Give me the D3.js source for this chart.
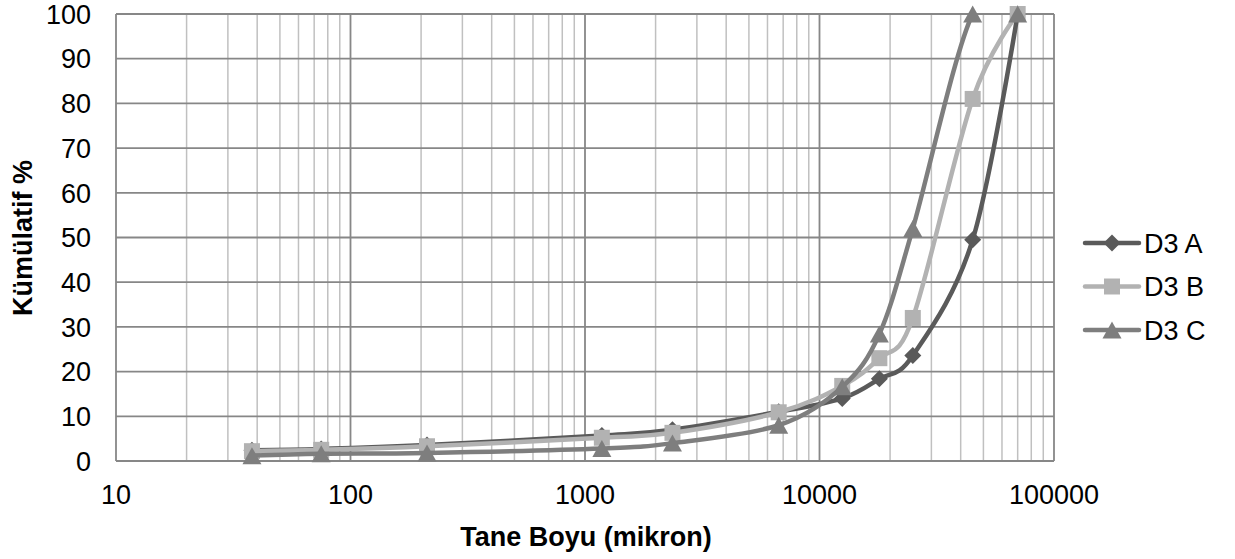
<!DOCTYPE html>
<html>
<head>
<meta charset="utf-8">
<script src="https://cdn.jsdelivr.net/npm/d3@7"></script>
<style>
  body { margin: 0; background: #fff; }
  svg { display: block; font-family: "Liberation Sans", Arial, sans-serif; }
  .tick-label { font-size: 27px; fill: #000; }
  .axis-title { font-size: 27px; font-weight: bold; fill: #000; }
</style>
</head>
<body>
<svg id="chart" width="1235" height="559"></svg>
<script>
// sieve sizes (micron)
var sizes = [38, 75, 212, 1180, 2360, 6700, 12500, 18000, 25000, 45000, 70000];
var d3a = [2.4, 2.7, 3.6, 5.7, 7.0, 11.0, 14.0, 18.4, 23.6, 49.5, 100];
var d3b = [2.2, 2.5, 3.3, 5.2, 6.3, 10.9, 16.8, 23.0, 32.0, 81.0, 100];
var d3c = [1.2, 1.6, 1.8, 2.8, 4.0, 8.0, 16.6, 28.4, 52.0, 100, 100];
var seriesNames = ["D3 A", "D3 B", "D3 C"];
var yTicks = [0, 10, 20, 30, 40, 50, 60, 70, 80, 90, 100];
var xTicks = [10, 100, 1000, 10000, 100000];

var series = [
  {name: seriesNames[0], values: d3a, color: "#5a5a5a", marker: "diamond"},
  {name: seriesNames[1], values: d3b, color: "#b2b2b2", marker: "square"},
  {name: seriesNames[2], values: d3c, color: "#7e7e7e", marker: "triangle"}
];

var svg = d3.select("#chart");
var x = d3.scaleLog().domain([10, 100000]).range([116, 1054]);
var y = d3.scaleLinear().domain([0, 100]).range([461, 14]);

// lines are clipped to the plot area, markers are not
svg.append("clipPath").attr("id", "plot-clip").append("rect")
  .attr("x", x(10)).attr("y", y(100))
  .attr("width", x(100000) - x(10)).attr("height", y(0) - y(100));

// minor vertical gridlines (2..9 of each decade)
var minor = [];
for (var p = 10; p < 100000; p *= 10) {
  for (var k = 2; k <= 9; k++) minor.push(p * k);
}
svg.append("g").selectAll("line").data(minor).enter().append("line")
  .attr("x1", function(d) { return x(d); }).attr("x2", function(d) { return x(d); })
  .attr("y1", y(0)).attr("y2", y(100))
  .attr("stroke", "#c0c0c0").attr("stroke-width", 1.5);

// major gridlines
svg.append("g").selectAll("line").data(yTicks).enter().append("line")
  .attr("x1", x(10)).attr("x2", x(100000))
  .attr("y1", function(d) { return y(d); }).attr("y2", function(d) { return y(d); })
  .attr("stroke", "#878787").attr("stroke-width", 1.8);
svg.append("g").selectAll("line").data(xTicks).enter().append("line")
  .attr("x1", function(d) { return x(d); }).attr("x2", function(d) { return x(d); })
  .attr("y1", y(0)).attr("y2", y(100))
  .attr("stroke", "#878787").attr("stroke-width", 1.8);

// tick labels
svg.append("g").selectAll("text").data(yTicks).enter().append("text")
  .attr("class", "tick-label")
  .attr("x", 91).attr("y", function(d) { return y(d); })
  .attr("dy", "0.36em").attr("text-anchor", "end")
  .text(function(d) { return d; });
svg.append("g").selectAll("text").data(xTicks).enter().append("text")
  .attr("class", "tick-label")
  .attr("x", function(d) { return x(d); }).attr("y", 504)
  .attr("text-anchor", "middle")
  .text(function(d) { return d; });

// titles
svg.append("text").attr("class", "axis-title")
  .attr("x", 586).attr("y", 546).attr("text-anchor", "middle")
  .text("Tane Boyu (mikron)");
svg.append("text").attr("class", "axis-title")
  .attr("transform", "translate(32,238) rotate(-90)")
  .attr("text-anchor", "middle")
  .text("Kümülatif %");

var line = d3.line()
  .x(function(d, i) { return x(sizes[i]); })
  .y(function(d) { return y(d); })
  .curve(d3.curveCatmullRom.alpha(0));

function markerPath(type) {
  if (type === "diamond") return "M0,-8.5L8.5,0L0,8.5L-8.5,0Z";
  if (type === "square") return "M-8,-8H8V8H-8Z";
  return "M0,-8.5L9.5,8.5H-9.5Z";
}

series.forEach(function(s) {
  var g = svg.append("g");
  g.append("path").datum(s.values)
    .attr("d", line).attr("fill", "none")
    .attr("clip-path", "url(#plot-clip)")
    .attr("stroke", s.color).attr("stroke-width", 4.5)
    .attr("stroke-linejoin", "round").attr("stroke-linecap", "round");
  g.selectAll("path.mk").data(s.values).enter().append("path")
    .attr("class", "mk")
    .attr("d", markerPath(s.marker))
    .attr("transform", function(d, i) { return "translate(" + x(sizes[i]) + "," + y(d) + ")"; })
    .attr("fill", s.color);
});

// legend
var legend = svg.append("g").selectAll("g").data(series).enter().append("g")
  .attr("transform", function(d, i) { return "translate(0," + (243 + i * 43.5) + ")"; });
legend.append("line")
  .attr("x1", 1085).attr("x2", 1139).attr("y1", 0).attr("y2", 0)
  .attr("stroke", function(d) { return d.color; }).attr("stroke-width", 4.5)
  .attr("stroke-linecap", "round");
legend.append("path")
  .attr("d", function(d) { return markerPath(d.marker); })
  .attr("transform", "translate(1112,0)")
  .attr("fill", function(d) { return d.color; });
legend.append("text").attr("class", "tick-label")
  .attr("x", 1144).attr("y", 0).attr("dy", "0.36em")
  .text(function(d) { return d.name; });
</script>
</body>
</html>
